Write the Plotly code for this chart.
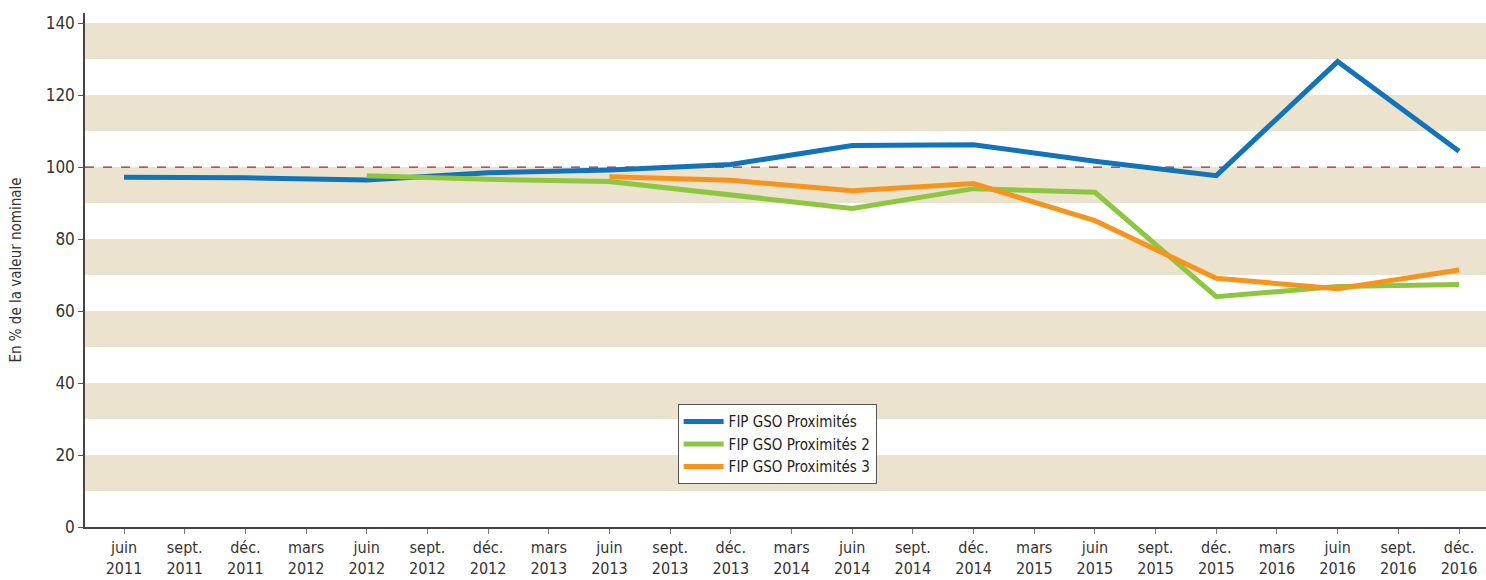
import plotly.graph_objects as go

tick_labels = [
    "juin<br>2011", "sept.<br>2011", "déc.<br>2011", "mars<br>2012",
    "juin<br>2012", "sept.<br>2012", "déc.<br>2012", "mars<br>2013",
    "juin<br>2013", "sept.<br>2013", "déc.<br>2013", "mars<br>2014",
    "juin<br>2014", "sept.<br>2014", "déc.<br>2014", "mars<br>2015",
    "juin<br>2015", "sept.<br>2015", "déc.<br>2015", "mars<br>2016",
    "juin<br>2016", "sept.<br>2016", "déc.<br>2016",
]

# semi-annual observation positions (index into tick_labels)
blue_x = [0, 2, 4, 6, 8, 10, 12, 14, 16, 18, 20, 22]
blue_y = [97.2, 97.0, 96.4, 98.4, 99.2, 100.7, 106.0, 106.2, 101.6, 97.6, 129.3, 104.4]

green_x = [4, 6, 8, 10, 12, 14, 16, 18, 20, 22]
green_y = [97.6, 96.6, 96.0, 92.3, 88.5, 94.0, 93.0, 64.0, 66.8, 67.4]

orange_x = [8, 10, 12, 14, 16, 18, 20, 22]
orange_y = [97.3, 96.3, 93.4, 95.4, 85.1, 69.1, 66.2, 71.4]

band_lows = [10, 30, 50, 70, 90, 110, 130]
yticks = [0, 20, 40, 60, 80, 100, 120, 140]

FONT = "DejaVu Sans Condensed, Liberation Sans Narrow, Roboto, sans-serif"

fig = go.Figure()

fig.add_trace(go.Scatter(x=blue_x, y=blue_y, mode="lines", name="FIP GSO Proximités",
                         line=dict(color="#1273BA", width=5)))
fig.add_trace(go.Scatter(x=green_x, y=green_y, mode="lines", name="FIP GSO Proximités 2",
                         line=dict(color="#8DC63F", width=5)))
fig.add_trace(go.Scatter(x=orange_x, y=orange_y, mode="lines", name="FIP GSO Proximités 3",
                         line=dict(color="#F7941E", width=5)))

shapes = []
for lo in band_lows:
    shapes.append(dict(type="rect", xref="paper", yref="y", x0=0, x1=1, y0=lo, y1=lo + 10,
                       fillcolor="#EBE3CD", line=dict(width=0), layer="below"))
shapes.append(dict(type="line", xref="paper", yref="y", x0=0, x1=1, y0=100, y1=100,
                   line=dict(color="#A3203D", width=1.2, dash="dash"), layer="below"))

fig.update_layout(
    width=1486, height=580,
    margin=dict(l=85, r=0, t=13, b=53),
    paper_bgcolor="white", plot_bgcolor="white",
    font=dict(family=FONT, size=16, color="#333333"),
    shapes=shapes,
    showlegend=True,
    legend=dict(x=0.423, y=0.239, xanchor="left", yanchor="top",
                bgcolor="white", bordercolor="#555555", borderwidth=1,
                font=dict(family=FONT, size=15, color="#222222"),
                tracegroupgap=0, itemwidth=40),
    xaxis=dict(range=[-0.643, 22.445], tickmode="array",
               tickvals=list(range(len(tick_labels))), ticktext=tick_labels,
               showgrid=False, zeroline=False, showline=True, linecolor="#444444",
               linewidth=1.5, ticks="outside", ticklen=5, tickcolor="#777777",
               tickfont=dict(family=FONT, size=16, color="#333333")),
    yaxis=dict(range=[0, 142.8], tickmode="array", tickvals=yticks,
               showgrid=False, zeroline=False, showline=True, linecolor="#444444",
               linewidth=1.5, ticks="outside", ticklen=5, tickcolor="#555555",
               tickfont=dict(family=FONT, size=17, color="#333333"),
               title=dict(text="En % de la valeur nominale", standoff=20,
                          font=dict(family=FONT, size=15, color="#333333"))),
)

fig.write_html("out.html", config={"displayModeBar": False},
               post_script="document.body.style.margin='0';document.body.style.overflow='hidden';")
